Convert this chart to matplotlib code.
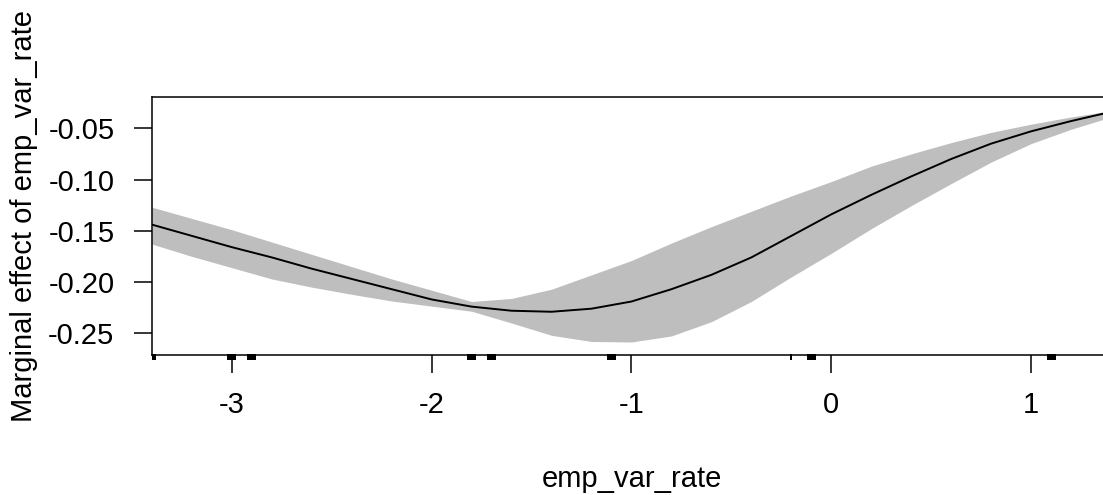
import numpy as np
import matplotlib
matplotlib.use('Agg')
import matplotlib.pyplot as plt

plt.rcParams['font.family'] = ['Liberation Sans', 'DejaVu Sans']

# grid of emp_var_rate values
emp_var_rate = [-3.4, -3.2, -3.0, -2.8, -2.6, -2.4, -2.2, -2.0, -1.8, -1.6, -1.4, -1.2, -1.0,
                -0.8, -0.6, -0.4, -0.2, 0.0, 0.2, 0.4, 0.6, 0.8, 1.0, 1.2, 1.4]
# marginal effect (mean) and its band
effect = [-0.144, -0.155, -0.166, -0.176, -0.187, -0.197, -0.207, -0.217, -0.224, -0.228,
          -0.229, -0.226, -0.219, -0.207, -0.193, -0.176, -0.155, -0.134, -0.115, -0.097,
          -0.080, -0.065, -0.053, -0.043, -0.034]
upper = [-0.127, -0.138, -0.149, -0.161, -0.173, -0.185, -0.197, -0.208, -0.219, -0.216,
         -0.207, -0.193, -0.179, -0.162, -0.146, -0.131, -0.116, -0.102, -0.087, -0.075,
         -0.064, -0.054, -0.046, -0.039, -0.033]
lower = [-0.163, -0.175, -0.186, -0.197, -0.205, -0.212, -0.2185, -0.2235, -0.2285, -0.240,
         -0.252, -0.258, -0.2585, -0.2526, -0.2387, -0.219, -0.195, -0.172, -0.148, -0.1255,
         -0.104, -0.083, -0.065, -0.051, -0.039]
# observed values shown as rug
rug_x = np.array([-3.4, -3.0, -2.9, -1.8, -1.7, -1.1, -0.2, -0.1, 1.1, 1.4])

xticks = [-3, -2, -1, 0, 1]
yticks = [-0.05, -0.10, -0.15, -0.20, -0.25]

fig = plt.figure(figsize=(11.03, 4.95), dpi=100)
ax = fig.add_axes([0.1378, 0.2828, 0.8694, 0.5206])

ax.fill_between(emp_var_rate, lower, upper, color='#bebebe', linewidth=0)
ax.plot(emp_var_rate, effect, color='black', lw=1.4)

xmin, xmax = -3.4, 1.4
ymin, ymax = -0.2712, -0.0198
ax.set_xlim(xmin, xmax)
ax.set_ylim(ymin, ymax)

# rug just under the bottom axis line
w = np.where(np.isclose(rug_x, -0.2), 0.008, 0.045)
lefts = np.maximum(rug_x - w / 2, xmin)
rights = np.minimum(rug_x + w / 2, xmax)
ax.bar(lefts, -0.0055, bottom=ymin + 0.0008, width=rights - lefts, align='edge',
       color='black', linewidth=0, clip_on=False)

ax.set_xticks(xticks)
ax.set_xticklabels([str(t) for t in xticks])
ax.set_yticks(yticks)
ax.set_yticklabels(['%.2f' % t for t in yticks])

ax.spines['right'].set_visible(False)
for s in ['left', 'top', 'bottom']:
    ax.spines[s].set_linewidth(1.1)
ax.tick_params(axis='both', direction='out', length=13, width=1.1, labelsize=21)
ax.tick_params(axis='x', pad=13)
ax.tick_params(axis='y', pad=14)

ax.set_xlabel('emp_var_rate', fontsize=21, labelpad=33)
ax.set_ylabel('Marginal effect of emp_var_rate', fontsize=21, labelpad=7)
ax.yaxis.set_label_coords(-0.119, 0.54)

plt.savefig('out.png', dpi=100)
